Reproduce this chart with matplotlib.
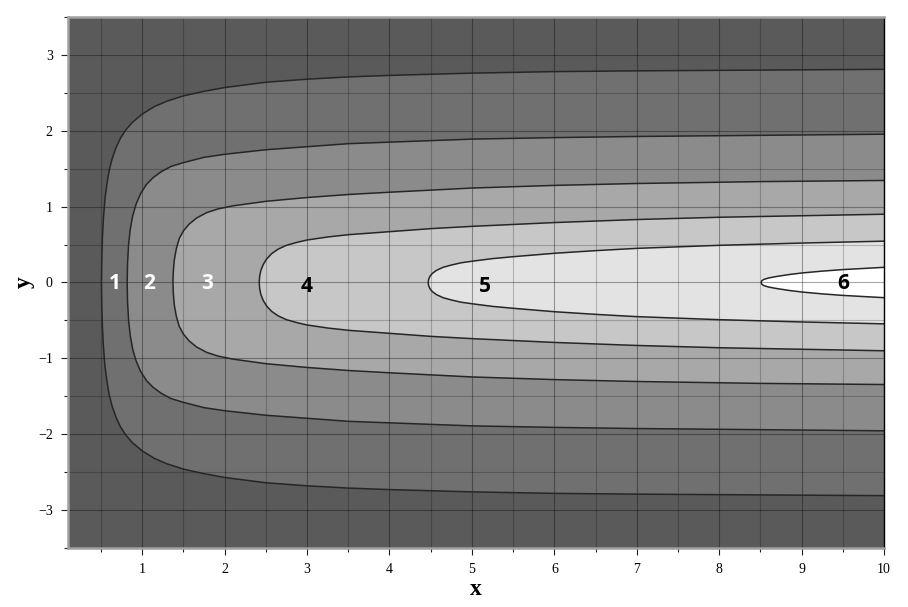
import matplotlib.pyplot as plt
import numpy as np
from matplotlib.ticker import MultipleLocator

# contour lines: x positions and the half-width |y| of each curve
# (the field is symmetric about y=0, so only the top half is stored)
lvl1_x = [0.506, 0.51, 0.518, 0.53, 0.548, 0.572, 0.6, 0.635, 0.68, 0.735, 0.8, 0.88, 1.0,
          1.15, 1.3, 1.5, 1.75, 2.0, 2.5, 3.0, 3.5, 4.0, 5.0, 6.0, 7.0, 8.5, 10.0]
lvl1_y = [0.0, 0.3, 0.6, 0.85, 1.1, 1.3, 1.48, 1.63, 1.77, 1.9, 2.01, 2.11, 2.22,
          2.32, 2.39, 2.46, 2.52, 2.57, 2.64, 2.68, 2.71, 2.73, 2.76, 2.78, 2.79, 2.8, 2.81]

lvl2_x = [0.818, 0.822, 0.835, 0.855, 0.885, 0.925, 0.98, 1.05, 1.13, 1.23, 1.35, 1.5, 1.75,
          2.0, 2.5, 3.0, 3.5, 4.0, 5.0, 6.0, 7.0, 8.5, 10.0]
lvl2_y = [0.0, 0.25, 0.5, 0.7, 0.88, 1.03, 1.17, 1.29, 1.38, 1.46, 1.53, 1.58, 1.65,
          1.69, 1.75, 1.79, 1.83, 1.85, 1.89, 1.91, 1.925, 1.94, 1.955]

lvl3_x = [1.373, 1.378, 1.39, 1.415, 1.45, 1.5, 1.57, 1.66, 1.78, 1.92, 2.1, 2.5, 3.0,
          3.5, 4.0, 5.0, 6.0, 7.0, 8.5, 10.0]
lvl3_y = [0.0, 0.15, 0.3, 0.45, 0.58, 0.68, 0.77, 0.85, 0.92, 0.97, 1.01, 1.07, 1.12,
          1.16, 1.19, 1.245, 1.28, 1.305, 1.33, 1.345]

lvl4_x = [2.42, 2.425, 2.44, 2.47, 2.51, 2.57, 2.65, 2.75, 2.88, 3.0, 3.25, 3.5, 4.0,
          4.5, 5.0, 6.0, 7.0, 8.0, 9.0, 10.0]
lvl4_y = [0.0, 0.08, 0.16, 0.24, 0.31, 0.38, 0.44, 0.49, 0.53, 0.56, 0.6, 0.63, 0.67,
          0.71, 0.74, 0.79, 0.83, 0.86, 0.88, 0.9]

lvl5_x = [4.47, 4.475, 4.49, 4.52, 4.57, 4.65, 4.75, 4.87, 5.0, 5.25, 5.5, 6.0, 6.5,
          7.0, 8.0, 9.0, 10.0]
lvl5_y = [0.0, 0.04, 0.08, 0.12, 0.16, 0.2, 0.23, 0.26, 0.28, 0.315, 0.34, 0.385, 0.42,
          0.45, 0.49, 0.52, 0.545]

lvl6_x = [8.51, 8.515, 8.54, 8.6, 8.7, 8.85, 9.0, 9.25, 9.5, 9.75, 10.0]
lvl6_y = [0.0, 0.02, 0.04, 0.06, 0.08, 0.105, 0.125, 0.15, 0.17, 0.185, 0.2]

levels = [1, 2, 3, 4, 5, 6]
curves = [(lvl1_x, lvl1_y), (lvl2_x, lvl2_y), (lvl3_x, lvl3_y),
          (lvl4_x, lvl4_y), (lvl5_x, lvl5_y), (lvl6_x, lvl6_y)]
shades = ['#5a5a5a', '#707070', '#8b8b8b', '#a8a8a8', '#c7c7c7', '#e3e3e3', '#ffffff']

label_x = [0.668, 1.08, 1.79, 2.99, 5.16, 9.5]
label_y = [-0.01, -0.01, -0.01, -0.05, -0.05, -0.01]
label_col = ['white', 'white', 'white', 'black', 'black', 'black']

fig = plt.figure(figsize=(9.08, 6.07), dpi=100)
ax = fig.add_axes([0.0749, 0.0972, 0.8987, 0.8748])
ax.set_facecolor(shades[0])

for i, (cx, cy) in enumerate(curves):
    cx = np.array(cx)
    cy = np.array(cy)
    # closed region: top half right->nose, bottom half nose->right
    px = np.concatenate([[10.5], cx[::-1], cx[1:], [10.5]])
    py = np.concatenate([[cy[-1]], cy[::-1], -cy[1:], [-cy[-1]]])
    ax.fill(px, py, color=shades[i + 1], lw=0, zorder=1)
    lx = np.concatenate([cx[::-1], cx[1:]])
    ly = np.concatenate([cy[::-1], -cy[1:]])
    ax.plot(lx, ly, color='#262626', lw=1.1, zorder=3, solid_joinstyle='round')

for lv, tx, ty, c in zip(levels, label_x, label_y, label_col):
    ax.text(tx, ty, str(lv), color=c, fontsize=15, fontweight='bold',
            family=['Open Sans', 'DejaVu Sans'], ha='center', va='center', zorder=4)

ax.set_xlim(0.1, 10)
ax.set_ylim(-3.5, 3.5)
ax.xaxis.set_major_locator(MultipleLocator(1))
ax.xaxis.set_minor_locator(MultipleLocator(0.5))
ax.yaxis.set_major_locator(MultipleLocator(1))
ax.yaxis.set_minor_locator(MultipleLocator(0.5))
ax.grid(which='major', color='black', alpha=0.35, lw=0.8, zorder=2)
ax.grid(which='minor', color='black', alpha=0.22, lw=0.8, zorder=2)
ax.set_axisbelow(False)

ax.tick_params(which='major', length=5, width=0.8, color='#222222', direction='out',
               labelsize=10, pad=6)
ax.tick_params(which='minor', length=3, width=0.8, color='#222222', direction='out')
for lab in ax.get_xticklabels() + ax.get_yticklabels():
    lab.set_family('Liberation Serif')

for s in ax.spines.values():
    s.set_color('#a0a0a0')
    s.set_linewidth(1.8)
    s.set_zorder(5)
ax.spines['right'].set_color('black')
ax.spines['right'].set_linewidth(1.0)

ax.set_xlabel('x', family='Liberation Serif', fontweight='bold', fontsize=17, labelpad=2)
ax.set_ylabel('y', family='Liberation Serif', fontweight='bold', fontsize=17, labelpad=2)

fig.savefig('out.png', dpi=100)
